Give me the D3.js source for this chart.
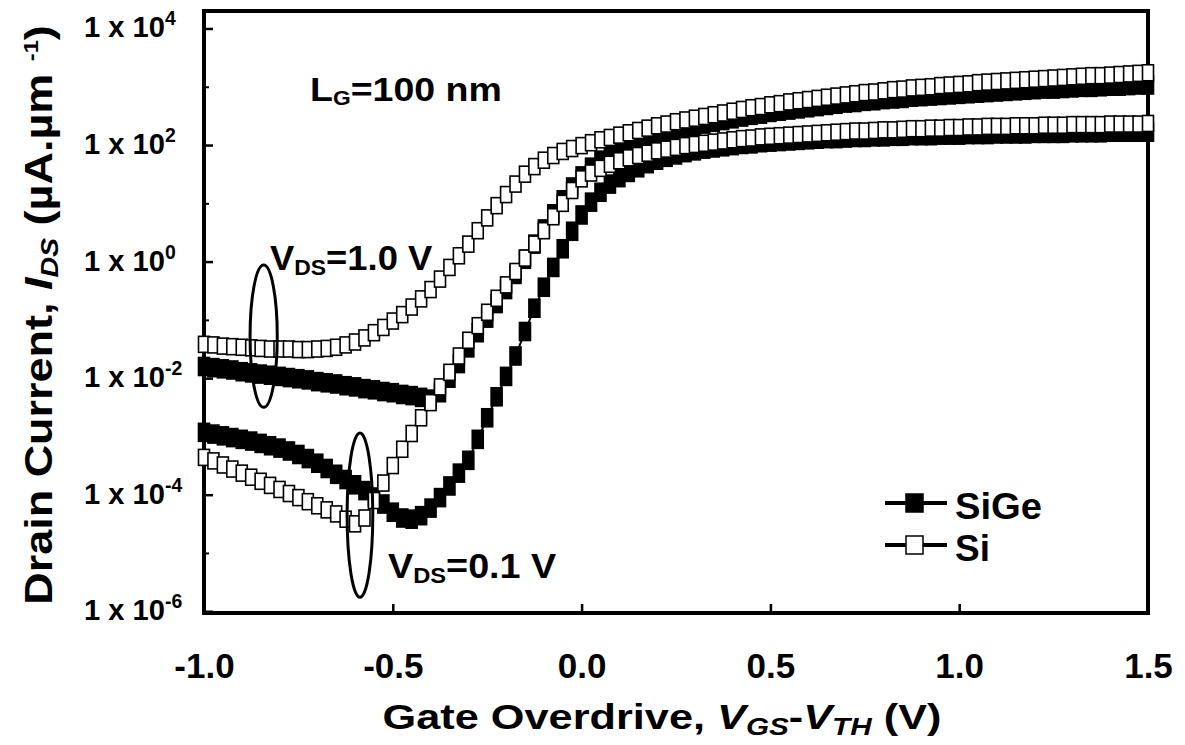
<!DOCTYPE html>
<html lang="en">
<head>
  <meta charset="UTF-8">
  <title>Drain current vs gate overdrive</title>
  <script src="https://d3js.org/d3.v7.min.js"></script>
  <style>
    body { margin: 0; background: #fff; }
    text { font-family: "Liberation Sans", Arial, sans-serif; font-weight: bold; fill: #000; }
  </style>
</head>
<body>
  <svg id="chart" width="1185" height="745"></svg>
  <script>
    // gate overdrive VGS-VTH (V), one entry per measured point
    const overdrive = [-1, -0.975, -0.95, -0.925, -0.9, -0.875, -0.85, -0.825, -0.8, -0.775, -0.75, -0.725, -0.7,
      -0.675, -0.65, -0.625, -0.6, -0.575, -0.55, -0.525, -0.5, -0.475, -0.45, -0.425, -0.4, -0.375, -0.35, -0.325,
      -0.3, -0.275, -0.25, -0.225, -0.2, -0.175, -0.15, -0.125, -0.1, -0.075, -0.05, -0.025, 0, 0.025, 0.05, 0.075,
      0.1, 0.125, 0.15, 0.175, 0.2, 0.225, 0.25, 0.275, 0.3, 0.325, 0.35, 0.375, 0.4, 0.425, 0.45, 0.475, 0.5, 0.525,
      0.55, 0.575, 0.6, 0.625, 0.65, 0.675, 0.7, 0.725, 0.75, 0.775, 0.8, 0.825, 0.85, 0.875, 0.9, 0.925, 0.95, 0.975,
      1, 1.025, 1.05, 1.075, 1.1, 1.125, 1.15, 1.175, 1.2, 1.225, 1.25, 1.275, 1.3, 1.325, 1.35, 1.375, 1.4, 1.425,
      1.45, 1.475, 1.5];

    // log10 of IDS (uA/um)
    const sige10 = [-1.80, -1.82, -1.84, -1.86, -1.89, -1.91, -1.93, -1.95, -1.97, -1.99, -2.01, -2.03, -2.06, -2.08,
      -2.10, -2.13, -2.15, -2.18, -2.20, -2.23, -2.25, -2.28, -2.30, -2.33, -2.36,
      -2.25, -2.00, -1.75, -1.48, -1.22, -0.97, -0.72, -0.48, -0.22, 0.04, 0.30, 0.56, 0.82, 1.06, 1.28, 1.47,
      1.62, 1.74, 1.84, 1.92, 1.99, 2.05, 2.10, 2.15, 2.20, 2.24, 2.28, 2.32, 2.36, 2.39, 2.42, 2.45, 2.48, 2.51, 2.53, 2.56,
      2.58, 2.60, 2.62, 2.64, 2.66, 2.68, 2.70, 2.72, 2.73, 2.75, 2.76, 2.78, 2.79, 2.80, 2.82, 2.83, 2.84, 2.85, 2.86, 2.87,
      2.88, 2.89, 2.90, 2.91, 2.92, 2.93, 2.94, 2.95, 2.96, 2.96, 2.97, 2.98, 2.99, 2.99, 3.00, 3.01, 3.01, 3.02, 3.03, 3.03];
    const sige01 = [-2.93, -2.96, -2.99, -3.02, -3.05, -3.08, -3.12, -3.16, -3.20, -3.25, -3.31, -3.38, -3.46, -3.55,
      -3.65, -3.74, -3.83, -3.93, -4.04, -4.16, -4.30, -4.40, -4.42, -4.36, -4.23,
      -4.05, -3.85, -3.63, -3.41, -3.05, -2.68, -2.32, -1.97, -1.62, -1.20, -0.80, -0.44, -0.10, 0.22, 0.52, 0.80,
      1.02, 1.19, 1.33, 1.44, 1.53, 1.61, 1.68, 1.74, 1.79, 1.83, 1.87, 1.90, 1.93, 1.95, 1.97, 1.99, 2.01, 2.02, 2.04, 2.05,
      2.06, 2.07, 2.08, 2.09, 2.10, 2.11, 2.11, 2.12, 2.13, 2.13, 2.14, 2.14, 2.15, 2.15, 2.16, 2.16, 2.16, 2.17, 2.17, 2.17,
      2.18, 2.18, 2.18, 2.19, 2.19, 2.19, 2.19, 2.20, 2.20, 2.20, 2.20, 2.21, 2.21, 2.21, 2.21, 2.22, 2.22, 2.22, 2.22, 2.22];
    const si10 = [-1.42, -1.43, -1.45, -1.46, -1.47, -1.48, -1.49, -1.50, -1.50, -1.50, -1.51, -1.51, -1.50, -1.49,
      -1.47, -1.43, -1.38, -1.31, -1.22, -1.13, -1.02, -0.91, -0.78, -0.64, -0.48,
      -0.30, -0.10, 0.10, 0.30, 0.53, 0.75, 0.96, 1.15, 1.33, 1.50, 1.63, 1.74, 1.82, 1.89, 1.94, 1.99,
      2.04, 2.09, 2.13, 2.17, 2.21, 2.25, 2.29, 2.33, 2.36, 2.40, 2.43, 2.46, 2.49, 2.52, 2.55, 2.58, 2.61, 2.64, 2.66, 2.69,
      2.71, 2.74, 2.76, 2.78, 2.80, 2.82, 2.84, 2.86, 2.88, 2.90, 2.91, 2.93, 2.95, 2.96, 2.98, 2.99, 3.00, 3.02, 3.03, 3.04,
      3.05, 3.07, 3.08, 3.09, 3.10, 3.11, 3.12, 3.13, 3.14, 3.15, 3.16, 3.17, 3.18, 3.19, 3.19, 3.20, 3.21, 3.22, 3.23, 3.24];
    const si01 = [-3.36, -3.42, -3.49, -3.56, -3.63, -3.70, -3.77, -3.84, -3.91, -3.98, -4.05, -4.12, -4.19, -4.26,
      -4.33, -4.42, -4.50, -4.40, -4.10, -3.80, -3.50, -3.22, -2.95, -2.68, -2.42,
      -2.15, -1.90, -1.62, -1.35, -1.10, -0.87, -0.63, -0.40, -0.17, 0.06, 0.30, 0.53, 0.77, 1.00, 1.22, 1.42,
      1.52, 1.60, 1.67, 1.73, 1.78, 1.82, 1.86, 1.90, 1.93, 1.96, 1.99, 2.01, 2.03, 2.05, 2.07, 2.09, 2.11, 2.12, 2.14, 2.15,
      2.16, 2.17, 2.18, 2.19, 2.20, 2.21, 2.22, 2.23, 2.24, 2.24, 2.25, 2.26, 2.26, 2.27, 2.28, 2.28, 2.29, 2.29, 2.30, 2.30,
      2.31, 2.31, 2.32, 2.32, 2.32, 2.33, 2.33, 2.33, 2.34, 2.34, 2.34, 2.35, 2.35, 2.35, 2.35, 2.36, 2.36, 2.36, 2.36, 2.37];

    const xTicks = [-1, -0.5, 0, 0.5, 1, 1.5];
    const yMajors = [1e-6, 1e-4, 1e-2, 1e0, 1e2, 1e4];
    const yExponents = ['-6', '-4', '-2', '0', '2', '4'];

    const svg = d3.select('svg#chart');
    const width = +svg.attr('width');
    const height = +svg.attr('height');
    const margins = { top: 11, right: 37, bottom: 132, left: 204 };
    const chartWidth = width - margins.left - margins.right;
    const chartHeight = height - margins.top - margins.bottom;

    const x = d3.scaleLinear().domain([-1, 1.5]).range([0, chartWidth]);
    const y = d3.scaleLog().domain([Math.pow(10, -6.03), Math.pow(10, 4.3)]).range([chartHeight, 0]);

    const chartArea = svg.append('g')
      .attr('transform', `translate(${margins.left},${margins.top})`);

    // squeeze a text horizontally (or stretch) so it fills a given width
    function fitWidth(sel, target) {
      const w = sel.node().getBBox().width;
      const s = target / w;
      const cur = sel.attr('transform') || '';
      sel.attr('transform', cur + ` scale(${s},1)`);
    }

    // text made of parts: {t, size, dy, italic}
    function rich(parent, parts, size) {
      const t = parent.append('text').attr('font-size', size);
      parts.forEach(p => {
        const ts = t.append('tspan').text(p.t);
        if (p.size) ts.attr('font-size', p.size);
        if (p.dy) ts.attr('dy', p.dy);
        if (p.italic) ts.attr('font-style', 'italic');
      });
      return t;
    }

    // ticks (inside the frame)
    const minors = y.ticks().filter(v => !yMajors.includes(v));
    chartArea.append('g')
      .call(d3.axisLeft(y).tickValues(minors).tickSizeInner(-5).tickSizeOuter(0).tickFormat(''))
      .call(a => a.select('.domain').remove())
      .selectAll('line').attr('stroke-width', 2);
    chartArea.append('g')
      .call(d3.axisLeft(y).tickValues(yMajors).tickSizeInner(-9).tickSizeOuter(0).tickFormat(''))
      .call(a => a.select('.domain').remove())
      .selectAll('line').attr('stroke-width', 2.5);

    const xAxis = chartArea.append('g')
      .attr('transform', `translate(0,${chartHeight})`)
      .call(d3.axisBottom(x).tickValues(xTicks).tickSizeInner(-9).tickSizeOuter(0).tickPadding(40)
        .tickFormat(d => d.toFixed(1)));
    xAxis.select('.domain').remove();
    xAxis.selectAll('line').attr('stroke-width', 2.5);
    xAxis.selectAll('text').attr('font-size', 35).attr('font-family', '"Liberation Sans", Arial, sans-serif')
      .attr('font-weight', 'bold');

    // y tick labels 1 x 10^n
    yMajors.forEach((v, i) => {
      const lab = rich(svg, [
        { t: '1 x 10' },
        { t: yExponents[i], size: 20, dy: -12 }
      ], 30);
      lab.attr('transform', `translate(84,${margins.top + y(v) + 9})`);
      const main = lab.select('tspan').node().getComputedTextLength();
      lab.attr('transform', lab.attr('transform') + ` scale(${81 / main},1)`);
    });

    // frame
    chartArea.append('rect')
      .attr('width', chartWidth).attr('height', chartHeight)
      .attr('fill', 'none').attr('stroke', '#000').attr('stroke-width', 4);

    // series (filled squares drawn first, open squares on top)
    const series = [
      { name: 'SiGe 1.0', vals: sige10, fill: '#000', mw: 11, mh: 18 },
      { name: 'SiGe 0.1', vals: sige01, fill: '#000', mw: 11, mh: 18 },
      { name: 'Si 1.0', vals: si10, fill: '#fff', mw: 11, mh: 16 },
      { name: 'Si 0.1', vals: si01, fill: '#fff', mw: 11, mh: 16 }
    ];
    const line = d3.line()
      .x((d, i) => x(overdrive[i]))
      .y(d => y(Math.pow(10, d)));

    series.forEach(s => {
      chartArea.append('path')
        .attr('d', line(s.vals))
        .attr('fill', 'none').attr('stroke', '#000').attr('stroke-width', 2);
      chartArea.append('g').selectAll('rect')
        .data(s.vals)
        .join('rect')
        .attr('x', (d, i) => x(overdrive[i]) - s.mw / 2)
        .attr('y', d => y(Math.pow(10, d)) - s.mh / 2)
        .attr('width', s.mw).attr('height', s.mh)
        .attr('fill', s.fill).attr('stroke', '#000').attr('stroke-width', 1.6);
    });

    // ellipses grouping the two drain biases (data units)
    const ellipses = [
      { v: -0.842, dv: 0.036, lo: -2.50, hi: -0.06 },
      { v: -0.587, dv: 0.034, lo: -5.76, hi: -2.94 }
    ];
    ellipses.forEach(e => {
      const yl = y(Math.pow(10, e.lo)), yh = y(Math.pow(10, e.hi));
      chartArea.append('ellipse')
        .attr('cx', x(e.v)).attr('cy', (yl + yh) / 2)
        .attr('rx', x(e.v + e.dv) - x(e.v)).attr('ry', (yl - yh) / 2)
        .attr('fill', 'none').attr('stroke', '#000').attr('stroke-width', 3);
    });

    // annotations
    const lg = rich(svg, [{ t: 'L' }, { t: 'G', size: 20, dy: 4 }, { t: '=100 nm', dy: -4 }], 33)
      .attr('transform', 'translate(310,101)');
    fitWidth(lg, 192);
    const v1 = rich(svg, [{ t: 'V' }, { t: 'DS', size: 22, dy: 5 }, { t: '=1.0 V', dy: -5 }], 35)
      .attr('transform', 'translate(270,270)');
    fitWidth(v1, 163);
    const v2 = rich(svg, [{ t: 'V' }, { t: 'DS', size: 22, dy: 5 }, { t: '=0.1 V', dy: -5 }], 35)
      .attr('transform', 'translate(388,578)');
    fitWidth(v2, 169);

    // axis titles
    const xt = rich(svg, [
      { t: 'Gate Overdrive, ' },
      { t: 'V', italic: true },
      { t: 'GS', size: 24, dy: 6, italic: true },
      { t: '-', dy: -6 },
      { t: 'V', italic: true },
      { t: 'TH', size: 24, dy: 6, italic: true },
      { t: ' (V)', dy: -6 }
    ], 35).attr('text-anchor', 'middle').attr('transform', 'translate(662,729)');
    fitWidth(xt, 559);

    const yt = rich(svg, [
      { t: 'Drain Current,  ' },
      { t: 'I', italic: true },
      { t: 'DS', size: 24, dy: 6, italic: true },
      { t: '  (\u00b5A.\u00b5m ', dy: -6 },
      { t: '-1', size: 20, dy: -14 },
      { t: ')', dy: 14 }
    ], 38).attr('text-anchor', 'middle').attr('transform', 'translate(52,315) rotate(-90)');
    fitWidth(yt, 580);

    // legend
    const legend = [
      { label: 'SiGe', fill: '#000', ly: 503, ty: 519, w: 87 },
      { label: 'Si', fill: '#fff', ly: 545, ty: 561, w: 35 }
    ];
    legend.forEach(l => {
      svg.append('line').attr('x1', 885).attr('x2', 947).attr('y1', l.ly).attr('y2', l.ly)
        .attr('stroke', '#000').attr('stroke-width', 4);
      svg.append('rect').attr('x', 906).attr('y', l.ly - 9).attr('width', 17).attr('height', 18)
        .attr('fill', l.fill).attr('stroke', '#000').attr('stroke-width', 1.5);
      const t = svg.append('text').attr('font-size', 37).text(l.label)
        .attr('transform', `translate(955,${l.ty})`);
      fitWidth(t, l.w);
    });
  </script>
</body>
</html>
